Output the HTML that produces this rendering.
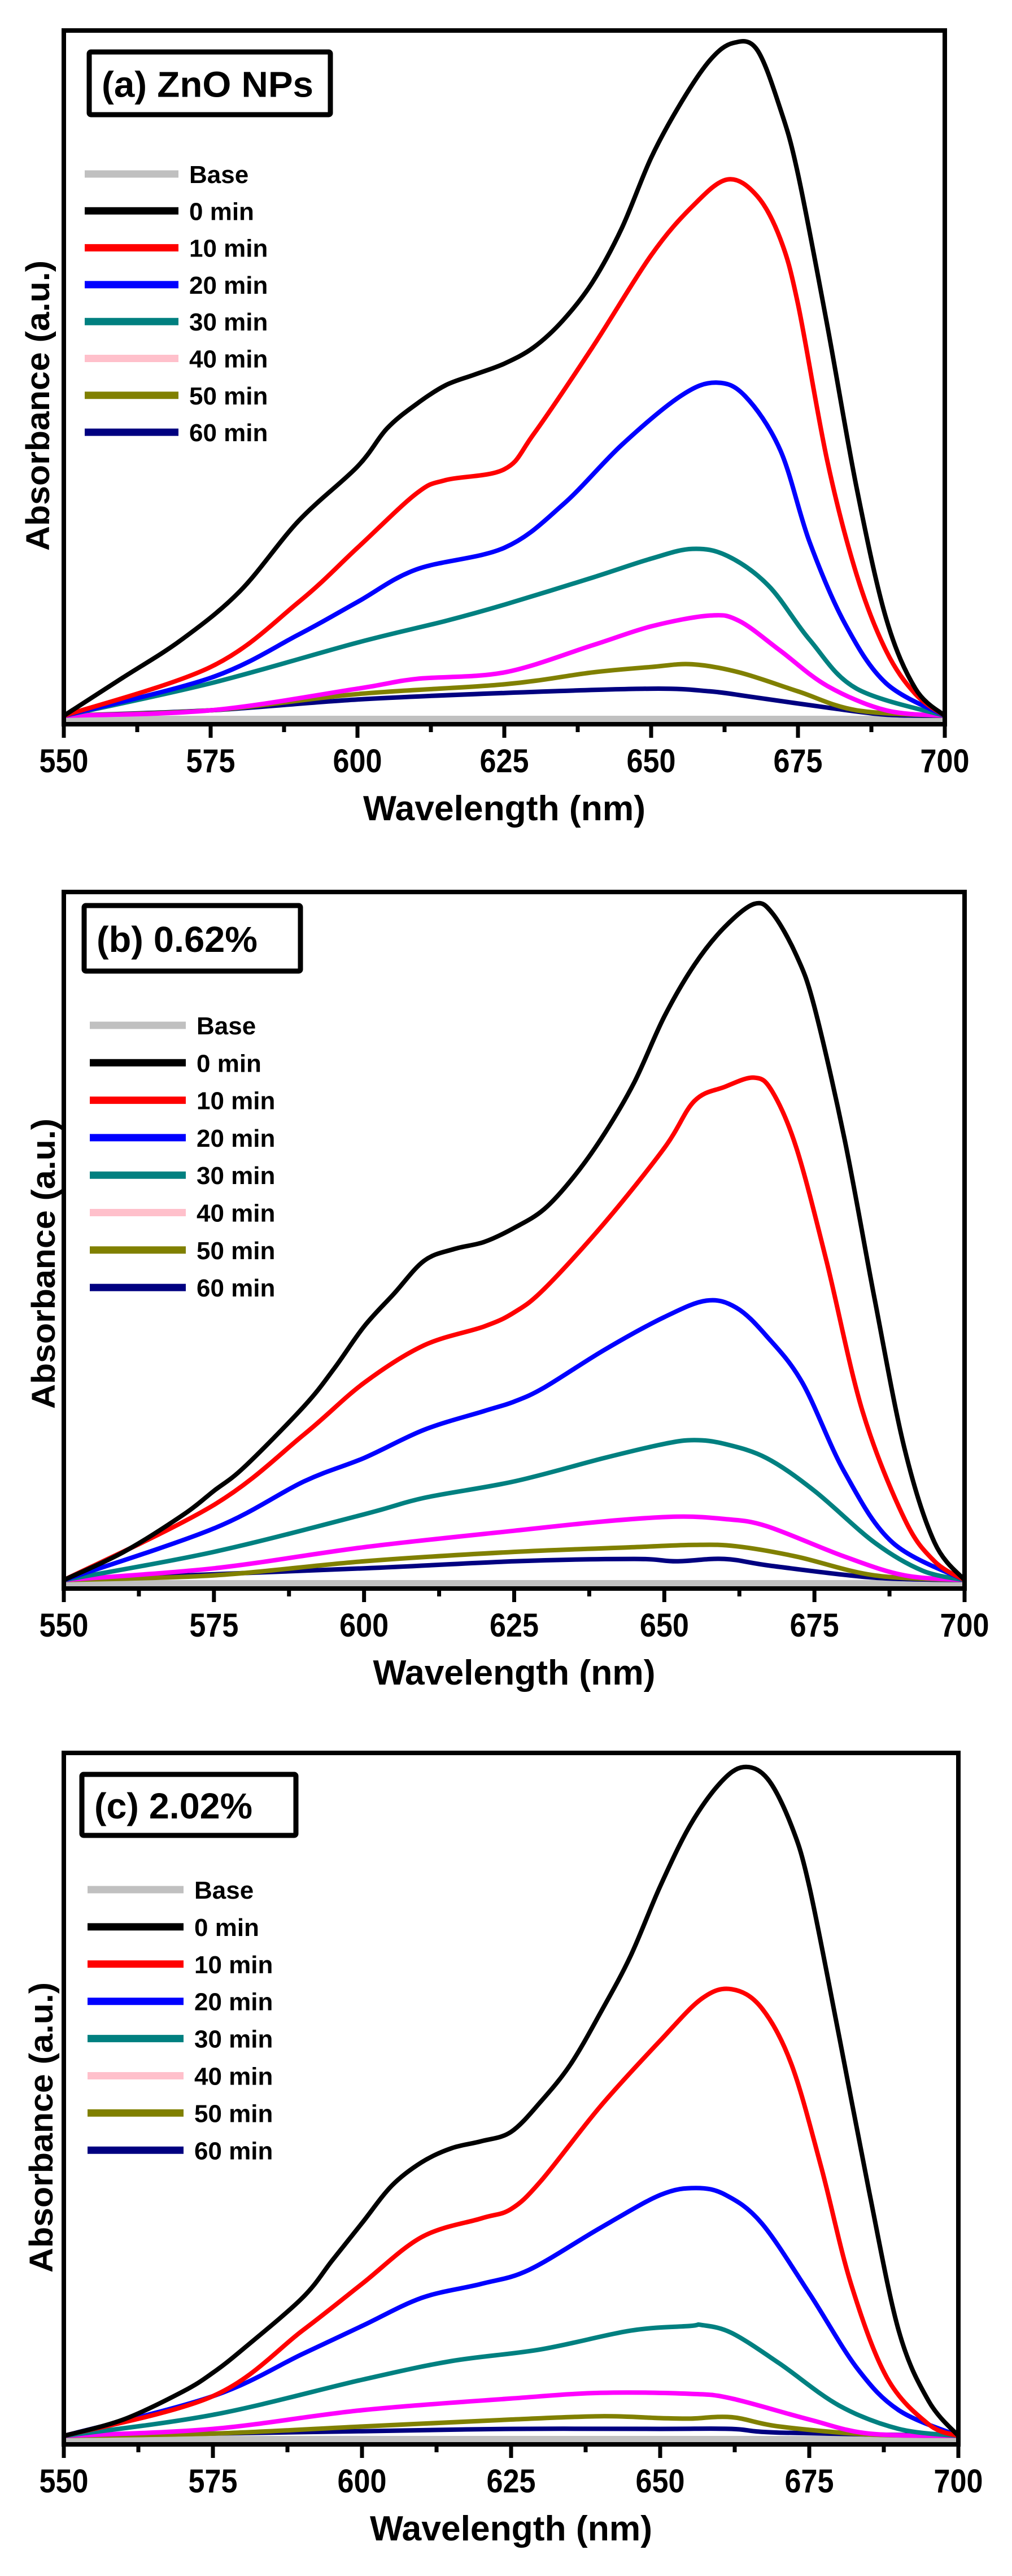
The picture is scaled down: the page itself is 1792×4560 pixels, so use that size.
<!DOCTYPE html>
<html><head><meta charset="utf-8"><style>
html,body{margin:0;padding:0;background:#fff;}
svg{display:block;}
text{font-family:"Liberation Sans",sans-serif;font-weight:bold;fill:#000;}
</style></head><body>
<svg id="s" width="1792" height="4560" viewBox="0 0 1792 4560" xmlns="http://www.w3.org/2000/svg"></svg>
<script>
var NS="http://www.w3.org/2000/svg";var S=document.getElementById('s');
function el(t,a,txt){var e=document.createElementNS(NS,t);for(var k in a)e.setAttribute(k,a[k]);if(txt!=null)e.textContent=txt;S.appendChild(e);return e;}
var cols=['#000000','#ff0000','#0000ff','#008080','#ff00ff','#808000','#000080'];
var legCols=['#c0c0c0','#000000','#ff0000','#0000ff','#008080','#ffc0cb','#808000','#000080'];
var legNames=['Base','0 min','10 min','20 min','30 min','40 min','50 min','60 min'];
var panels=[
{top:54,bot:1282,left:113,right:1673,base:1267,H:1191,bd:1320,pd:78,title:'(a) ZnO NPs',tb:[158,92,585,203],tlen:375,leg:[150,316,335,308,65.3],yl:[67,718],
data:[
[[550,1320],[560,1250],[570,1180],[580,1090],[590,960],[600,860],[605,790],[610,745],[615,710],[620,690],[625,670],[630,640],[635,590],[640,520],[645,420],[650,290],[655,190],[660,110],[664,78],[668,90],[672,200],[675,320],[680,600],[685,900],[690,1140],[695,1270],[700,1320]],
[[550,1320],[575,1230],[590,1110],[600,1010],[610,910],[615,885],[625,865],[630,800],[640,640],[650,470],[657,380],[663,330],[668,360],[672,440],[675,560],[680,850],[685,1060],[690,1200],[695,1280],[700,1320]],
[[550,1320],[575,1250],[590,1170],[600,1110],[610,1050],[625,1010],[635,930],[645,820],[655,730],[661,705],[666,730],[672,830],[677,1000],[683,1150],[690,1260],[700,1320]],
[[550,1320],[575,1260],[600,1185],[615,1145],[625,1115],[640,1065],[650,1030],[657,1012],[663,1025],[670,1080],[677,1180],[685,1270],[700,1320]],
[[550,1320],[575,1310],[600,1270],[610,1252],[625,1240],[640,1190],[650,1155],[660,1135],[665,1145],[672,1200],[680,1265],[690,1310],[700,1320]],
[[550,1320],[575,1310],[600,1280],[625,1262],[640,1240],[650,1230],[657,1225],[665,1240],[675,1275],[685,1310],[700,1320]],
[[550,1320],[575,1310],[600,1290],[625,1278],[650,1270],[660,1275],[667,1285],[680,1305],[690,1318],[700,1320]]]},
{top:1579,bot:2812,left:113,right:1708,base:2797,H:1197,bd:1480,pd:40,title:'(b) 0.62%',tb:[149,1603,532,1719],tlen:285,leg:[159,329,348,1815,66.3],yl:[77,2237],
data:[
[[550,1480],[560,1420],[570,1340],[575,1290],[580,1240],[590,1110],[595,1030],[600,940],[605,870],[610,800],[615,775],[620,760],[625,730],[630,690],[635,620],[640,530],[645,420],[650,280],[655,170],[660,90],[665,40],[668,60],[672,150],[675,260],[680,540],[685,880],[690,1200],[695,1400],[700,1480]],
[[550,1480],[575,1320],[590,1170],[600,1060],[610,980],[620,940],[625,910],[630,860],[640,720],[650,560],[655,460],[660,430],[665,410],[668,440],[672,560],[677,800],[683,1120],[690,1350],[695,1440],[700,1480]],
[[550,1480],[575,1370],[590,1270],[600,1220],[610,1160],[620,1120],[625,1100],[630,1070],[640,990],[650,920],[657,885],[662,900],[667,960],[673,1060],[680,1250],[688,1400],[700,1480]],
[[550,1480],[575,1420],[600,1340],[610,1305],[625,1270],[640,1220],[650,1190],[655,1182],[660,1190],[667,1220],[675,1290],[685,1400],[693,1460],[700,1480]],
[[550,1480],[575,1455],[600,1410],[625,1375],[640,1355],[652,1345],[660,1350],[667,1365],[680,1430],[690,1470],[700,1480]],
[[550,1480],[575,1470],[600,1440],[625,1420],[645,1410],[655,1405],[662,1408],[672,1430],[685,1470],[700,1480]],
[[550,1480],[600,1455],[625,1440],[645,1435],[652,1440],[660,1435],[668,1450],[685,1475],[700,1480]]]},
{top:3103,bot:4327,left:113,right:1697,base:4312,H:1184,bd:1475,pd:45,title:'(c) 2.02%',tb:[145,3141,524,3249],tlen:280,leg:[155,325,344,3345,65.9],yl:[73,3766],
data:[
[[550,1475],[560,1440],[570,1380],[575,1340],[580,1290],[590,1180],[595,1100],[600,1020],[605,940],[610,890],[615,860],[620,845],[625,825],[630,760],[635,680],[640,570],[645,450],[650,300],[655,170],[660,80],[664,45],[668,70],[672,170],[675,300],[680,620],[685,950],[690,1250],[695,1400],[700,1475]],
[[550,1475],[575,1390],[590,1250],[600,1150],[610,1050],[620,1010],[625,990],[630,930],[640,770],[650,630],[657,540],[662,520],[667,560],[672,680],[677,900],[682,1150],[688,1350],[695,1450],[700,1475]],
[[550,1475],[575,1390],[590,1300],[600,1240],[610,1180],[620,1150],[628,1120],[640,1030],[650,960],[656,945],[661,960],[667,1020],[675,1170],[683,1330],[690,1420],[700,1475]],
[[550,1475],[575,1430],[600,1355],[615,1315],[630,1290],[645,1250],[655,1240],[657,1238],[662,1255],[670,1320],[680,1410],[690,1460],[700,1475]],
[[550,1475],[575,1460],[600,1420],[625,1395],[640,1383],[655,1385],[662,1395],[675,1440],[685,1470],[700,1475]],
[[550,1475],[575,1470],[600,1455],[625,1440],[640,1433],[650,1437],[655,1438],[662,1435],[670,1455],[685,1472],[700,1475]],
[[550,1475],[600,1465],[625,1460],[650,1460],[662,1460],[670,1468],[700,1475]]]}
];
function path(pts){var d='M'+pts[0][0].toFixed(1)+','+pts[0][1].toFixed(1);
for(var i=0;i<pts.length-1;i++){var p0=pts[i-1]||pts[i],p1=pts[i],p2=pts[i+1],p3=pts[i+2]||p2;
var c1=[p1[0]+(p2[0]-p0[0])/6,p1[1]+(p2[1]-p0[1])/6],c2=[p2[0]-(p3[0]-p1[0])/6,p2[1]-(p3[1]-p1[1])/6];
d+=' C'+c1[0].toFixed(1)+','+c1[1].toFixed(1)+' '+c2[0].toFixed(1)+','+c2[1].toFixed(1)+' '+p2[0].toFixed(1)+','+p2[1].toFixed(1);}
return d;}
panels.forEach(function(P){
var X=function(nm){return P.left+(nm-550)/150*(P.right-P.left);};
// baseline band
el('rect',{x:P.left,y:P.base,width:P.right-P.left,height:P.bot-P.base,fill:'#c0c0c0'});
for(var k=6;k>=0;k--){
var pts=P.data[k].map(function(q){var h=(P.bd-q[1])/(P.bd-P.pd);return [X(q[0]),P.base-h*P.H];});
el('path',{d:path(pts),fill:'none',stroke:cols[k],'stroke-width':8,'stroke-linejoin':'round','stroke-linecap':'round'});}
// axes
el('rect',{x:P.left,y:P.top,width:P.right-P.left,height:P.bot-P.top,fill:'none',stroke:'#000','stroke-width':8});
for(var t=0;t<=12;t++){var nm=550+t*12.5;var x=X(nm);var maj=(t%2==0);
el('line',{x1:x,y1:P.bot,x2:x,y2:P.bot+(maj?24:14),stroke:'#000','stroke-width':7});
if(maj)el('text',{x:x,y:P.bot+85,'font-size':58,'text-anchor':'middle',textLength:87,lengthAdjust:'spacingAndGlyphs'},String(nm));}
el('text',{x:(P.left+P.right)/2,y:P.bot+170,'font-size':62,'text-anchor':'middle',textLength:500,lengthAdjust:'spacingAndGlyphs'},'Wavelength (nm)');
el('text',{x:0,y:0,'font-size':58,'text-anchor':'middle',textLength:514,lengthAdjust:'spacingAndGlyphs',transform:'translate('+(P.yl[0]+20)+','+P.yl[1]+') rotate(-90)'},'Absorbance (a.u.)');
// title box
var b=P.tb;el('rect',{x:b[0],y:b[1],width:b[2]-b[0],height:b[3]-b[1],fill:'#fff',stroke:'#000','stroke-width':9,rx:3});
el('text',{x:b[0]+22,y:(b[1]+b[3])/2+24,'font-size':64,textLength:P.tlen,lengthAdjust:'spacingAndGlyphs'},P.title);
// legend
var L=P.leg;for(var i=0;i<8;i++){var y=L[3]+i*L[4];
el('line',{x1:L[0],y1:y,x2:L[1],y2:y,stroke:legCols[i],'stroke-width':13});
el('text',{x:L[2],y:y+16,'font-size':44},legNames[i]);}
});
</script>
</body></html>
